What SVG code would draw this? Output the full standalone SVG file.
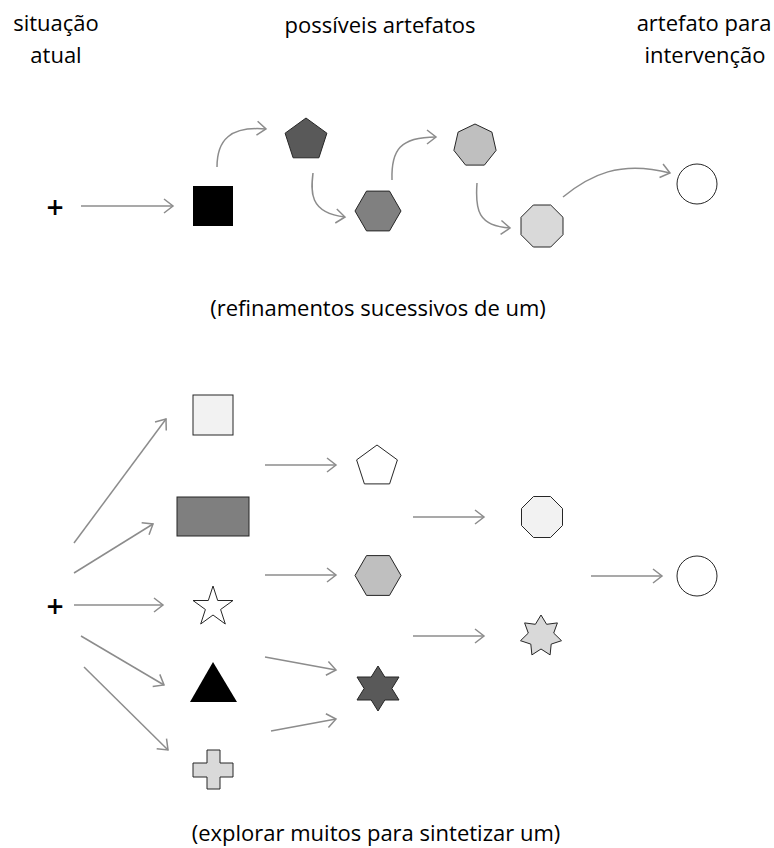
<svg xmlns="http://www.w3.org/2000/svg" width="774" height="848" viewBox="0 0 774 848">
<style>
text{font-family:"Open Sans","Liberation Sans",sans-serif;font-size:22px;fill:#000;text-anchor:middle}
.plus{font-size:30px;font-weight:600}
.c{fill:none;stroke:#8c8c8c;stroke-width:1.5;marker-end:url(#ah)}
.s{stroke:#262626;stroke-width:1}
</style>
<defs>
<marker id="ah" viewBox="-11 -9 13 18" refX="0" refY="0" markerWidth="13" markerHeight="18" markerUnits="userSpaceOnUse" orient="auto">
<path d="M-9,-7 L0,0 L-9,7" fill="none" stroke="#8c8c8c" stroke-width="1.5"/>
</marker>
</defs>
<rect width="774" height="848" fill="#fff"/>
<g id="labels">
<text x="56" y="31">situação</text>
<text x="56" y="63">atual</text>
<text x="380" y="33">possíveis artefatos</text>
<text x="704" y="31">artefato para</text>
<text x="705" y="63">intervenção</text>
<text x="378" y="316">(refinamentos sucessivos de um)</text>
<text x="376" y="841">(explorar muitos para sintetizar um)</text>
</g>
<g id="connectors">
<path class="c" d="M81,206 L173,206"/>
<path class="c" d="M217,167 C217,140 230,126 266,129"/>
<path class="c" d="M313,173 C311,190 308,213 345,217"/>
<path class="c" d="M392,180 C391,150 400,137 436,137"/>
<path class="c" d="M477,183 C475,210 478,226 510,228"/>
<path class="c" d="M563,197 C590,175 620,160 670,173"/>
<path class="c" d="M74,543 L166,419"/>
<path class="c" d="M74,573 L153,524"/>
<path class="c" d="M74,605 L163,605"/>
<path class="c" d="M81,636 L164,685"/>
<path class="c" d="M84,667 L168,750"/>
<path class="c" d="M265,465 L336,465"/>
<path class="c" d="M265,575 L336,575"/>
<path class="c" d="M265,657 L336,670"/>
<path class="c" d="M271,731 L336,719"/>
<path class="c" d="M413,517 L484,517"/>
<path class="c" d="M413,636 L484,636"/>
<path class="c" d="M591,576 L662,576"/>
</g>
<g id="top-start"><text class="plus" x="55" y="218">+</text></g>
<g id="top-square"><rect x="193" y="186" width="40" height="40" fill="#000"/></g>
<g id="top-pentagon"><polygon class="s" fill="#595959" points="306,118 326.9,133.2 318.9,157.8 293.1,157.8 285.1,133.2"/></g>
<g id="top-hexagon"><polygon class="s" fill="#808080" points="401,211 389.5,191.1 366.5,191.1 355,211 366.5,230.9 389.5,230.9"/></g>
<g id="top-heptagon"><polygon class="s" fill="#bfbfbf" points="475,124 491.9,132.1 496.1,150.4 484.4,165.1 465.6,165.1 453.9,150.4 458.1,132.1"/></g>
<g id="top-octagon"><polygon class="s" fill="#d9d9d9" points="533.3,205 550.7,205 563,217.3 563,234.7 550.7,247 533.3,247 521,234.7 521,217.3"/></g>
<g id="top-circle"><circle class="s" cx="697" cy="184" r="20" fill="#fff"/></g>
<g id="bot-start"><text class="plus" x="55" y="617">+</text></g>
<g id="bot-square"><rect class="s" x="193" y="395" width="40" height="40" fill="#f2f2f2"/></g>
<g id="bot-rect"><rect class="s" x="177" y="497" width="72" height="39" fill="#7f7f7f"/></g>
<g id="bot-star5"><polygon class="s" fill="#fff" points="213,586 217.7,600.5 233,600.5 220.6,609.5 225.3,624 213,615 200.7,624 205.4,609.5 193,600.5 208.3,600.5"/></g>
<g id="bot-triangle"><polygon fill="#000" points="213,662 237,702 190,702"/></g>
<g id="bot-cross"><polygon class="s" fill="#d9d9d9" points="207,750 220,750 220,763 233,763 233,777 220,777 220,789 207,789 207,777 193,777 193,763 207,763"/></g>
<g id="bot-pentagon"><polygon class="s" fill="#fff" points="377,445 397.4,459.9 389.6,483.9 364.4,483.9 356.6,459.9"/></g>
<g id="bot-hexagon"><polygon class="s" fill="#bfbfbf" points="401,575.5 389.5,555.6 366.5,555.6 355,575.5 366.5,595.4 389.5,595.4"/></g>
<g id="bot-star6"><polygon class="s" fill="#595959" points="378,666 384.8,677 399,677 391.9,688.5 399,700 384.8,700 378,711 371.2,700 357,700 364.1,688.5 357,677 371.2,677"/></g>
<g id="bot-octagon"><polygon class="s" fill="#f2f2f2" points="533.5,496.5 550.5,496.5 562.5,508.5 562.5,525.5 550.5,537.5 533.5,537.5 521.5,525.5 521.5,508.5"/></g>
<g id="bot-star7"><polygon class="s" fill="#d9d9d9" points="541,615 546.6,624.3 557.4,622.9 553.7,633.1 561.5,640.7 551.2,644.1 550.1,654.9 541,649 531.9,654.9 530.8,644.1 520.5,640.7 528.3,633.1 524.6,622.9 535.4,624.3"/></g>
<g id="bot-circle"><circle class="s" cx="697" cy="576" r="20" fill="#fff"/></g>
</svg>
